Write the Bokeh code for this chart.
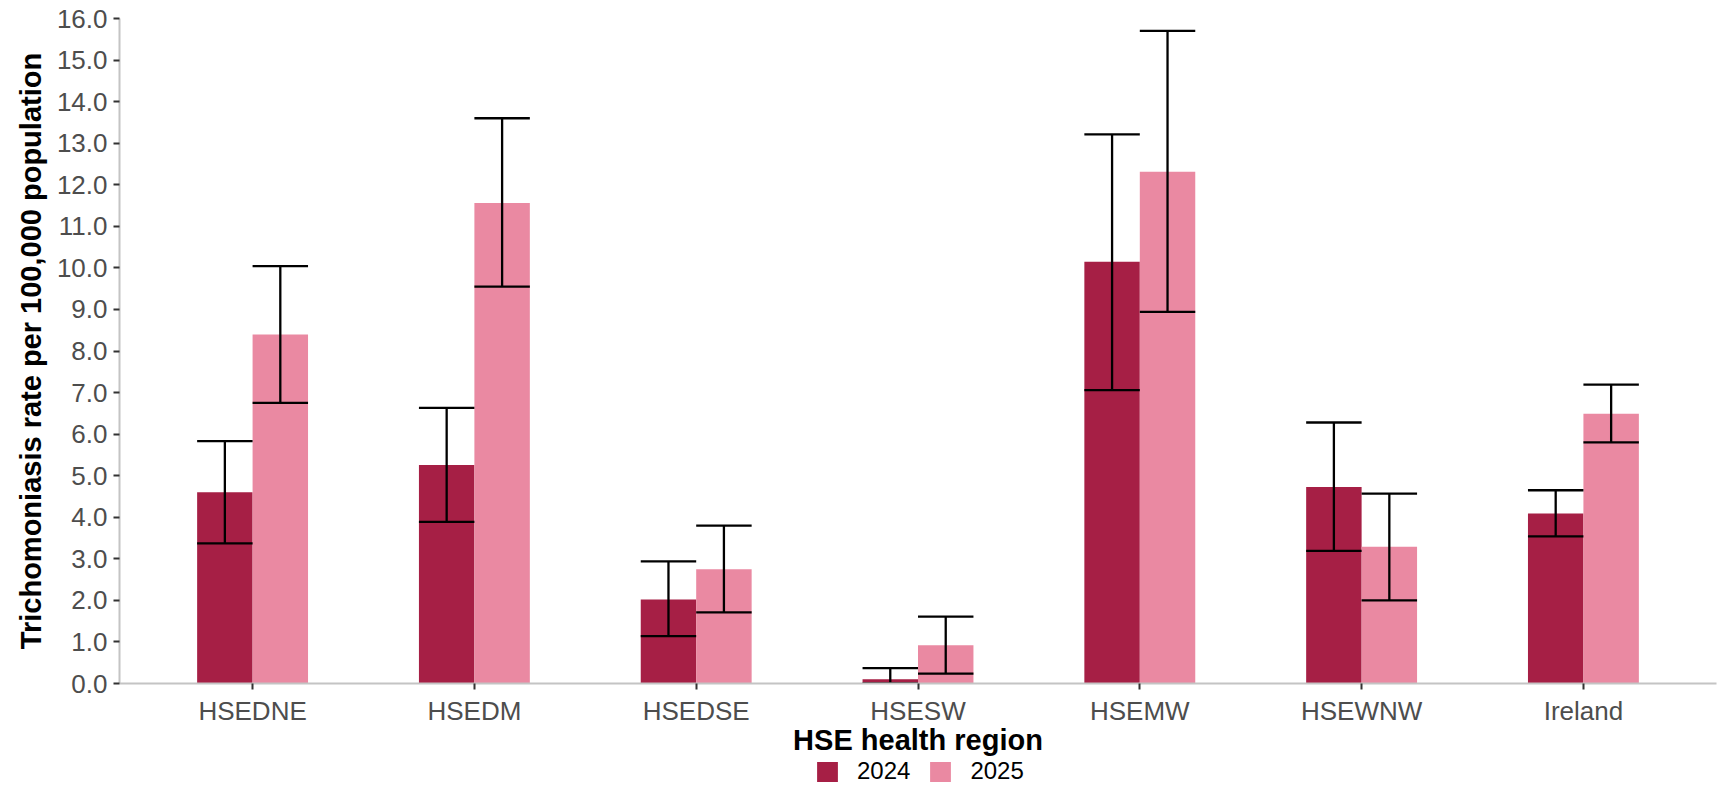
from bokeh.plotting import figure
from bokeh.layouts import column
from bokeh.models import (FactorRange, Range1d, ColumnDataSource, Legend, LegendItem,
                          FixedTicker, NumeralTickFormatter)
from bokeh.transform import dodge
from bokeh.embed import file_html
from bokeh.resources import INLINE

# ---------------- data ----------------
regions = ["HSEDNE", "HSEDM", "HSEDSE", "HSESW", "HSEMW", "HSEWNW", "Ireland"]
years = ["2024", "2025"]
rate_2024 = [4.60, 5.26, 2.02, 0.10, 10.15, 4.73, 4.09]
lower_2024 = [3.37, 3.89, 1.14, 0.00, 7.06, 3.19, 3.54]
upper_2024 = [5.83, 6.63, 2.94, 0.37, 13.21, 6.28, 4.65]
rate_2025 = [8.40, 11.56, 2.75, 0.92, 12.31, 3.29, 6.49]
lower_2025 = [6.75, 9.55, 1.71, 0.24, 8.94, 2.00, 5.80]
upper_2025 = [10.04, 13.60, 3.80, 1.61, 15.70, 4.57, 7.19]
y_ticks = list(range(0, 17))

x_title = "HSE health region"
y_title = "Trichomoniasis rate per 100,000 population"

DARK = "#A61F45"
LIGHT = "#EA89A2"
FONT = "Liberation Sans"

W = 1726
H_MAIN = 758
H_LEG = 28

src = ColumnDataSource(dict(region=regions,
                            rate_2024=rate_2024, lower_2024=lower_2024, upper_2024=upper_2024,
                            rate_2025=rate_2025, lower_2025=lower_2025, upper_2025=upper_2025))

p = figure(x_range=FactorRange(factors=regions, range_padding=0.1, range_padding_units="absolute"),
           y_range=Range1d(0, 16),
           width=W, height=H_MAIN, output_backend="svg", toolbar_location=None,
           min_border_left=119, min_border_right=10, min_border_top=18,
           min_border_bottom=H_MAIN - 684,
           background_fill_color="white", border_fill_color="white", outline_line_color=None)

BW = 0.25
r1 = p.vbar(x=dodge("region", -BW / 2, range=p.x_range), top="rate_2024", width=BW, bottom=0,
            source=src, fill_color=DARK, line_color=None)
r2 = p.vbar(x=dodge("region", BW / 2, range=p.x_range), top="rate_2025", width=BW, bottom=0,
            source=src, fill_color=LIGHT, line_color=None)

for yr, off in (("2024", -BW / 2), ("2025", BW / 2)):
    xc = dodge("region", off, range=p.x_range)
    xl = dodge("region", off - BW / 2, range=p.x_range)
    xr = dodge("region", off + BW / 2, range=p.x_range)
    p.segment(x0=xc, y0="lower_" + yr, x1=xc, y1="upper_" + yr, source=src,
              line_color="black", line_width=2.3)
    p.segment(x0=xl, y0="upper_" + yr, x1=xr, y1="upper_" + yr, source=src,
              line_color="black", line_width=2.3)
    p.segment(x0=xl, y0="lower_" + yr, x1=xr, y1="lower_" + yr, source=src,
              line_color="black", line_width=2.3)

p.xgrid.visible = False
p.ygrid.visible = False

for ax in (p.xaxis[0], p.yaxis[0]):
    ax.axis_line_color = "#C4C4C4"
    ax.axis_line_width = 2
    ax.major_tick_line_color = "#333333"
    ax.major_tick_line_width = 2
    ax.major_tick_in = 0
    ax.major_tick_out = 6
    ax.minor_tick_line_color = None
    ax.major_label_text_font = FONT
    ax.major_label_text_font_size = "26px"
    ax.major_label_text_color = "#4D4D4D"
    ax.axis_label_text_font = FONT
    ax.axis_label_text_font_size = "29px"
    ax.axis_label_text_font_style = "bold"
    ax.axis_label_text_color = "black"

p.xaxis.axis_label = x_title
p.yaxis.axis_label = y_title
p.yaxis.ticker = FixedTicker(ticks=y_ticks)
p.yaxis.formatter = NumeralTickFormatter(format="0.0")
p.xaxis.major_label_standoff = 6
p.xaxis.axis_label_standoff = -5
p.yaxis.major_label_standoff = 6
p.yaxis.axis_label_standoff = 7

# ---------------- legend strip ----------------
pl = figure(width=W, height=H_LEG, output_backend="svg", toolbar_location=None,
            x_axis_type=None, y_axis_type=None, min_border=0,
            min_border_left=119, min_border_right=10,
            x_range=Range1d(0, 1), y_range=Range1d(0, 1),
            background_fill_color="white", border_fill_color="white", outline_line_color=None)
pl.xgrid.visible = False
pl.ygrid.visible = False
legend_src = ColumnDataSource(dict(x=[-10.0], top=[-10.0]))
l1 = pl.vbar(x="x", top="top", width=0.1, source=legend_src, fill_color=DARK, line_color=None)
l2 = pl.vbar(x="x", top="top", width=0.1, source=legend_src, fill_color=LIGHT, line_color=None)
legend = Legend(items=[LegendItem(label=years[0], renderers=[l1]),
                       LegendItem(label=years[1], renderers=[l2])],
                orientation="horizontal", location=(695, 1),
                glyph_width=26, glyph_height=25, label_standoff=17, spacing=17,
                label_text_font=FONT, label_text_font_size="24px", label_text_color="black",
                label_height=25,
                padding=0, margin=0, border_line_color=None, background_fill_alpha=0)
pl.add_layout(legend, "center")

layout = column(p, pl, spacing=0)
open("out.html", "w").write(file_html(layout, INLINE))
